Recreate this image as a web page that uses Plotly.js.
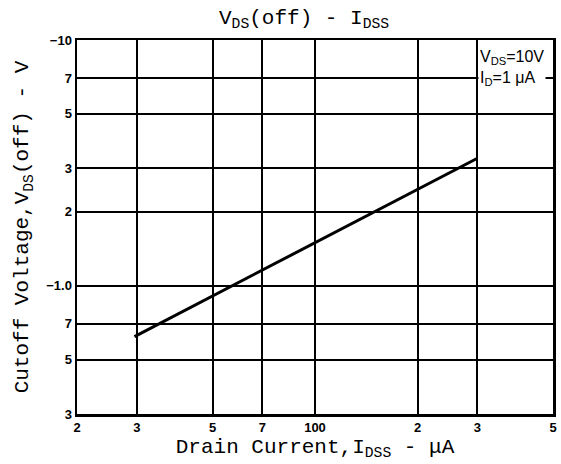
<!DOCTYPE html>
<html>
<head>
<meta charset="utf-8">
<script src="https://cdn.plot.ly/plotly-3.0.1.min.js"></script>
<style>
html,body{margin:0;padding:0;background:#fff;}
#chart{width:561px;height:464px;}
</style>
</head>
<body>
<div id="chart"></div>
<script>
// Drain current IDSS (uA) and cutoff voltage magnitude |VDS(off)| (V)
const idss = [29.5, 300];
const vdsOff = [0.62, 3.3];

const xTickVals = [20, 30, 50, 70, 100, 200, 300, 500];
const xTickText = ['<b>2</b>', '<b>3</b>', '<b>5</b>', '<b>7</b>', '<b>100</b>', '<b>2</b>', '<b>3</b>', '<b>5</b>'];
const yTickVals = [0.3, 0.5, 0.7, 1, 2, 3, 5, 7, 10];
const yTickText = ['<b>3</b>', '<b>5</b>', '<b>7</b>', '<b>\u22121.0</b>', '<b>2</b>', '<b>3</b>', '<b>5</b>', '<b>7</b>', '<b>\u221210</b>'];

const mono = '"Liberation Mono", "Courier New", monospace';
const tickFont = {family: '"Liberation Sans", Arial, sans-serif', size: 13, color: '#000'};

const data = [{
  x: idss,
  y: vdsOff,
  type: 'scatter',
  mode: 'lines',
  line: {color: '#000', width: 3},
  hoverinfo: 'skip',
  showlegend: false
}];

const layout = {
  width: 561,
  height: 464,
  margin: {l: 77, r: 8, t: 40, b: 50},
  paper_bgcolor: '#fff',
  plot_bgcolor: '#fff',
  title: {
    text: 'V<sub>DS</sub>(off) - I<sub>DSS</sub>',
    font: {family: mono, size: 21, color: '#000'},
    xref: 'paper', x: 0.477, xanchor: 'center',
    yref: 'container', y: 0.965, yanchor: 'middle'
  },
  xaxis: {
    type: 'log',
    range: [Math.log10(20), Math.log10(500)],
    tickmode: 'array',
    tickvals: xTickVals,
    ticktext: xTickText,
    tickfont: tickFont,
    ticks: '',
    ticklen: 0,
    showgrid: true,
    gridcolor: '#000',
    gridwidth: 2,
    showline: true,
    linecolor: '#000',
    linewidth: 2.5,
    mirror: true,
    zeroline: false,
    title: {
      text: 'Drain Current,I<sub>DSS</sub> - \u03bcA',
      font: {family: mono, size: 21, color: '#000'},
      standoff: 4
    }
  },
  yaxis: {
    type: 'log',
    range: [Math.log10(0.3), Math.log10(10)],
    tickmode: 'array',
    tickvals: yTickVals,
    ticktext: yTickText,
    tickfont: tickFont,
    ticks: '',
    ticklen: 0,
    showgrid: true,
    gridcolor: '#000',
    gridwidth: 2,
    showline: true,
    linecolor: '#000',
    linewidth: 2.5,
    mirror: true,
    zeroline: false,
    title: {
      text: 'Cutoff Voltage,V<sub>DS</sub>(off) - V',
      font: {family: mono, size: 21, color: '#000'},
      standoff: 12
    }
  },
  annotations: [{
    xref: 'paper', yref: 'paper',
    x: 0.985, y: 0.985,
    xanchor: 'right', yanchor: 'top',
    align: 'left',
    showarrow: false,
    bgcolor: '#fff',
    borderpad: 1,
    text: 'V<sub>DS</sub>=10V<br>I<sub>D</sub>=1 \u03bcA',
    font: {family: '"Liberation Sans", Arial, sans-serif', size: 16, color: '#000'}
  }]
};

Plotly.newPlot('chart', data, layout, {displayModeBar: false, staticPlot: true});
</script>
</body>
</html>
